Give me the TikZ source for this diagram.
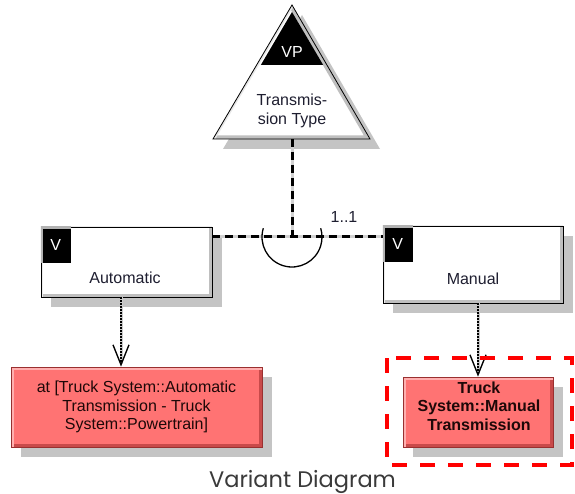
\documentclass[tikz,border=0pt]{standalone}
\usepackage{fontspec}
\setmainfont{Liberation Sans}
\newfontfamily\captfont{Poppins}
\usetikzlibrary{arrows.meta,shadows,calc}
\definecolor{shadowc}{HTML}{C4C4C4}
\definecolor{redfill}{HTML}{FF7373}
\definecolor{redborder}{HTML}{9A3030}
\definecolor{reddark}{HTML}{C84A4A}
\definecolor{redlight}{HTML}{FFB0B0}
\definecolor{redtext}{HTML}{1E0808}
\definecolor{labtext}{HTML}{1E1E30}
\definecolor{capttext}{HTML}{3A3A3A}
\begin{document}
\begin{tikzpicture}[x=1pt,y=-1pt,
  font=\fontsize{16}{18.5}\selectfont,
  myshadow/.style={drop shadow={shadow xshift=10pt, shadow yshift=-10pt, fill=shadowc, draw=none, opacity=1}},
  wbox/.style={rectangle, draw=black, line width=0.8pt, fill=white, inner sep=0pt, myshadow,
    path picture={
      \draw[line width=7pt, gray!50] (path picture bounding box.north east) -- (path picture bounding box.south east) -- (path picture bounding box.south west);
      \draw[line width=3pt, gray!15] (path picture bounding box.south west) -- (path picture bounding box.north west) -- (path picture bounding box.north east);
    }},
  vsq/.style={rectangle, fill=black, inner sep=0pt, minimum width=30pt, minimum height=36pt, text=white,
    path picture={
      \draw[line width=4pt, gray!60] (path picture bounding box.south west) -- (path picture bounding box.north west) -- (path picture bounding box.north east);
    }},
  redbox/.style={rectangle, draw=redborder, line width=0.9pt, fill=redfill, inner sep=0pt, align=center, text=redtext, myshadow,
    path picture={
      \draw[line width=7pt, reddark] (path picture bounding box.north east) -- (path picture bounding box.south east) -- (path picture bounding box.south west);
      \draw[line width=6pt, redlight] (path picture bounding box.south west) -- (path picture bounding box.north west) -- (path picture bounding box.north east);
    }},
  lab/.style={inner sep=0pt, text=labtext, align=center},
  dashconn/.style={black, line width=3pt, dash pattern=on 8pt off 5pt, preaction={draw=gray!35, line width=3pt, solid}},
  dotarrow/.style={black, line width=1.5pt, dash pattern=on 1.5pt off 1.5pt,
    preaction={draw=gray!40, line width=3pt, solid},
    -{Straight Barb[length=20pt, width=16pt, line width=1.3pt]}},
]
\useasboundingbox (0,0) rectangle (575,494);

% variation point triangle
\path[fill=white, draw=black, line width=0.8pt, myshadow,
  path picture={
    \draw[gray!50, line width=7pt] (292,5) -- (370,139) -- (213,139);
    \draw[gray!18, line width=4pt] (213,139) -- (292,5);
    \begin{scope}
      \clip (292,12) -- (218.5,137) -- (365.5,137) -- cycle;
      \fill[black] (200,0) rectangle (380,65);
    \end{scope}
  }] (292,5) -- (213,139) -- (370,139) -- cycle;
\coordinate (tribase) at (292,139);
\node[inner sep=0pt, text=white] (vp) at (292,52) {VP};
\node[lab] (tt) at (292,111) {Transmis-\\sion Type};

% variants
\node[wbox, minimum width=171pt, minimum height=70pt] (auto) at (126.5,262) {};
\node[vsq, anchor=north west] (autoV) at (auto.north west) {V};
\node[lab] (autolab) at (125,278) {Automatic};

\node[wbox, minimum width=180pt, minimum height=77pt] (manual) at (473,264.5) {};
\node[vsq, anchor=north west] (manV) at (manual.north west) {V};
\node[lab] (manlab) at (473,279) {Manual};

% junction
\coordinate (junc) at (292,237);
\draw[dashconn] (tribase) -- (junc);
\draw[dashconn] (auto.east |- junc) -- (manual.west |- junc);
\draw[black, line width=1.3pt] (junc) ++(197:30) arc[start angle=197, end angle=-17, radius=30];
\node[lab] (mult) at (344,217) {1..1};

% realization boxes
\node[redbox, minimum width=251pt, minimum height=80pt] (atred) at (136.5,407)
  {at [Truck System::Automatic\\Transmission - Truck\\System::Powertrain]};
\node[redbox, minimum width=150pt, minimum height=70pt] (manred) at (478,412) {};
\node[inner sep=0pt, align=center, text=redtext, font=\fontsize{16}{18.5}\selectfont\bfseries] (mantxt)
  at (479,406) {Truck\\System::Manual\\Transmission};

% arrows
\coordinate (a1) at ($(auto.south)+(-5.5,0)$);
\coordinate (a2) at (a1 |- atred.north);
\draw[dotarrow] (a1) -- (a2);
\coordinate (b1) at (manred.north |- manual.south);
\draw[dotarrow] (b1) -- (manred.north);

% highlight
\draw[red, line width=3.5pt, dash pattern=on 15pt off 13pt] (387,358) rectangle (572,465);

% caption
\node[anchor=base, inner sep=0pt, text=capttext, font=\captfont\fontsize{22.5}{26}\selectfont] (capt) at (302.5,487) {Variant Diagram};
\end{tikzpicture}
\end{document}
